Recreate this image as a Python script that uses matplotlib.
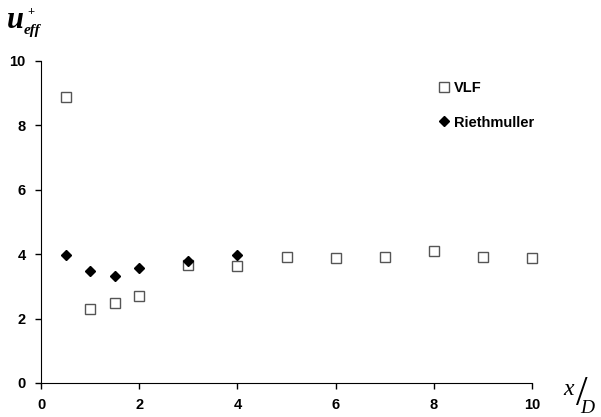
import matplotlib.pyplot as plt

# VLF data
vlf_x = [0.5, 1, 1.5, 2, 3, 4, 5, 6, 7, 8, 9, 10]
vlf_y = [8.87, 2.30, 2.48, 2.70, 3.65, 3.63, 3.90, 3.88, 3.91, 4.10, 3.91, 3.88]

# Riethmuller data
rie_x = [0.5, 1, 1.5, 2, 3, 4]
rie_y = [3.97, 3.49, 3.32, 3.57, 3.78, 3.97]

W, H = 601, 417
fig = plt.figure(figsize=(W / 100, H / 100), dpi=100)
ax = fig.add_axes([41 / W, 1 - 383 / H, (532 - 41) / W, (383 - 61) / H])

ax.plot(vlf_x, vlf_y, 's', ms=7, mfc='white', mec='#555555', mew=1.0,
        label='VLF', clip_on=False)
ax.plot(rie_x, rie_y, 'D', ms=5.5, color='black', label='Riethmuller',
        clip_on=False)

ax.set_xlim(0, 10)
ax.set_ylim(0, 10)
ax.set_xticks(range(0, 11, 2))
ax.set_yticks(range(0, 11, 2))
ax.spines['top'].set_visible(False)
ax.spines['right'].set_visible(False)
ax.tick_params(direction='out', length=4, width=1, pad=7)
for lbl in ax.get_xticklabels() + ax.get_yticklabels():
    lbl.set_fontfamily('Liberation Sans')
    lbl.set_fontweight('bold')
    lbl.set_fontsize(10.5)

leg = ax.legend(loc='upper left', bbox_to_anchor=((422 - 41) / (532 - 41), 1 - (68 - 61) / (383 - 61)),
                frameon=False, handletextpad=0.1, handlelength=1.2,
                labelspacing=1.4, prop={'family': 'Liberation Sans', 'weight': 'bold', 'size': 10.5})

serif = dict(family='Liberation Serif', weight='bold', style='italic')
# y label u_eff^+
fig.text(7 / W, 1 - 28 / H, 'u', fontsize=22, va='baseline', **serif)
fig.text(27 / W, 1 - 15 / H, '+', fontsize=9, va='baseline', family='Liberation Serif', weight='bold')
fig.text(24 / W, 1 - 34 / H, 'eff', fontsize=11, va='baseline', **serif)

# x label x/D
fig.text(563 / W, 1 - 395 / H, 'x', fontsize=17, va='baseline', family='Liberation Serif', style='italic')
fig.text(582 / W, 1 - 395 / H, '/', fontsize=30, ha='center', va='center', family='Liberation Serif')
fig.text(580 / W, 1 - 413 / H, 'D', fontsize=14, va='baseline', family='Liberation Serif', style='italic')

fig.savefig('out.png', dpi=100)
